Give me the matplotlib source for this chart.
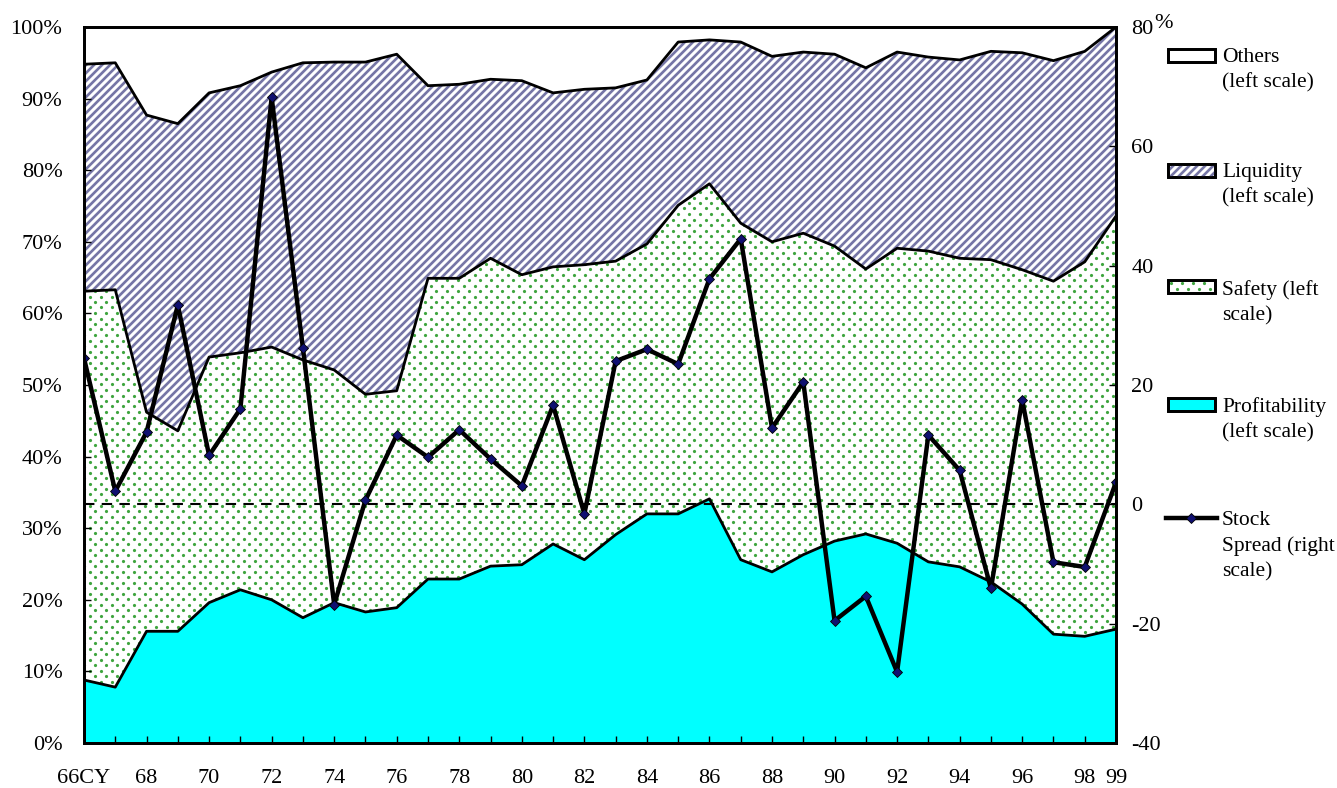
import numpy as np
import matplotlib
matplotlib.use("Agg")
import matplotlib.pyplot as plt
from matplotlib.patches import Rectangle
from matplotlib.lines import Line2D
from matplotlib.collections import LineCollection

years = list(range(66, 100))
profitability = [8.8, 7.8, 15.6, 15.6, 19.6, 21.4, 20.0, 17.5, 19.6, 18.3, 18.9, 22.9,
                 22.9, 24.7, 24.9, 27.8, 25.6, 29.1, 32.0, 32.0, 34.1, 25.6, 23.9, 26.3,
                 28.2, 29.2, 27.9, 25.3, 24.6, 22.5, 19.4, 15.2, 14.9, 15.9]
safety = [54.3, 55.5, 30.6, 28.0, 34.3, 33.1, 35.3, 36.0, 32.5, 30.4, 30.3, 42.0,
          42.0, 43.0, 40.5, 38.7, 41.2, 38.2, 37.7, 43.1, 44.0, 47.0, 46.1, 44.9,
          41.2, 37.0, 41.2, 43.4, 43.1, 45.0, 46.7, 49.3, 52.3, 57.7]
liquidity = [31.7, 31.7, 41.5, 42.9, 36.9, 37.3, 38.4, 41.5, 43.0, 46.4, 47.0, 26.9,
             27.1, 25.0, 27.1, 24.3, 24.5, 24.2, 22.9, 22.8, 20.1, 25.3, 25.9, 25.3,
             26.8, 28.1, 27.4, 27.1, 27.7, 29.1, 30.3, 30.8, 29.4, 26.4]
others = [5.2, 5.0, 12.3, 13.5, 9.2, 8.2, 6.3, 5.0, 4.9, 4.9, 3.8, 8.2,
          8.0, 7.3, 7.5, 9.2, 8.7, 8.5, 7.4, 2.1, 1.8, 2.1, 4.1, 3.5,
          3.8, 5.7, 3.5, 4.2, 4.6, 3.4, 3.6, 4.7, 3.4, 0.0]
stock_spread = [24.5, 2.2, 12.1, 33.4, 8.2, 16.0, 68.2, 26.2, -16.8, 0.7, 11.6, 7.9,
                12.5, 7.6, 3.1, 16.6, -1.6, 24.0, 26.0, 23.5, 37.8, 44.5, 12.8, 20.5,
                -19.5, -15.4, -28.1, 11.6, 5.7, -14.1, 17.5, -9.7, -10.5, 3.7]
xlabel_years = list(range(66, 99, 2)) + [99]
xlabels = ["66CY"] + [str(y) for y in range(68, 99, 2)] + ["99"]
legend_labels = ["Others\n(left scale)", "Liquidity\n(left scale)", "Safety (left\nscale)",
                 "Profitability\n(left scale)", "Stock\nSpread (right\nscale)"]

CYAN = "#00ffff"
GREEN = "#3fa53f"
SLATE = "#7676a6"

plt.rcParams["font.family"] = ["Liberation Serif", "DejaVu Serif"]
plt.rcParams["font.size"] = 16

W, H = 1337, 788
fig = plt.figure(figsize=(W / 100, H / 100), dpi=100)


def fx(x):
    return x / W


def fy(y):
    return 1 - y / H


# texture helpers, drawn in figure pixels and clipped to a shape
def stripes(target, x0, y0, x1, y1, clip, clip_tr, z):
    lines = []
    h = y1 - y0
    x = x0 - h
    while x < x1:
        lines.append([(fx(x), fy(y1)), (fx(x + h), fy(y0))])
        x += 8
    lc = LineCollection(lines, colors=SLATE, linewidths=1.9, transform=fig.transFigure,
                        zorder=z)
    target.add_artist(lc) if target is fig else target.add_collection(lc, autolim=False)
    lc.set_clip_path(clip, clip_tr) if clip_tr is not None else lc.set_clip_path(clip)


def dots(target, x0, y0, x1, y1, clip, clip_tr, z):
    xs, ys = [], []
    row = 0
    y = y0
    while y < y1:
        x = x0 + (5.5 if row % 2 else 0)
        while x < x1:
            xs.append(fx(x))
            ys.append(fy(y))
            x += 11
        y += 5.5
        row += 1
    ln = Line2D(xs, ys, ls="none", marker="o", markersize=2.3, markerfacecolor=GREEN,
                markeredgewidth=0, transform=fig.transFigure, zorder=z)
    target.add_artist(ln) if target is fig else target.add_line(ln)
    ln.set_clip_path(clip, clip_tr) if clip_tr is not None else ln.set_clip_path(clip)


ax = fig.add_axes([fx(84), fy(743), fx(1116) - fx(84), fy(27) - fy(743)])

tops = np.cumsum([profitability, safety, liquidity, others], axis=0)

ax.fill_between(years, 0, tops[0], facecolor=CYAN, edgecolor="none", lw=0)
safe_poly = ax.fill_between(years, tops[0], tops[1], facecolor="white", lw=0)
liq_poly = ax.fill_between(years, tops[1], tops[2], facecolor="white", lw=0)
dots(ax, 84, 27, 1116, 743, safe_poly.get_paths()[0], ax.transData, 1.5)
stripes(ax, 84, 27, 1116, 743, liq_poly.get_paths()[0], ax.transData, 1.5)
for t in tops[:3]:
    ax.plot(years, t, color="black", lw=2, zorder=2)

ax.set_xlim(66, 99)
ax.set_ylim(0, 100)
ax.set_yticks(range(0, 101, 10))
ax.set_yticklabels([f"{v}%" for v in range(0, 101, 10)])
ax.set_xticks(years, minor=True)
ax.set_xticks(xlabel_years)
ax.set_xticklabels(xlabels)
ax.tick_params(axis="x", which="both", direction="in", length=5, width=1, pad=19, top=False)
ax.tick_params(axis="y", direction="in", length=5, width=1, pad=15.5)
for s in ax.spines.values():
    s.set_linewidth(2)

ax2 = ax.twinx()
ax2.axhline(0, color="black", lw=1.5, ls=(0, (5, 3.5)))
ax2.plot(years, stock_spread, color="black", lw=3.2, marker="D", markersize=5,
         markerfacecolor="#101070", markeredgecolor="black", markeredgewidth=0.6)
ax2.set_ylim(-40, 80)
ax2.set_yticks(range(-40, 81, 20))
ax2.set_yticklabels([str(v) for v in range(-40, 81, 20)])
ax2.tick_params(axis="y", direction="in", length=5, width=1, pad=11)
for s in ax2.spines.values():
    s.set_linewidth(2)
fig.text(fx(1154), fy(24), "%", fontsize=16, ha="left", va="center")

# legend, drawn by hand to match the spread-out layout
def box(y, face, kind=None):
    r = Rectangle((fx(1168), fy(y + 6.5)), fx(47), fy(0) - fy(13),
                  transform=fig.transFigure, facecolor=face, edgecolor="black", lw=2,
                  zorder=3)
    fig.add_artist(r)
    if kind == "stripes":
        stripes(fig, 1168, y - 7, 1215, y + 7, r, None, 3.1)
    elif kind == "dots":
        dots(fig, 1171, y - 4, 1215, y + 7, r, None, 3.1)
    edge = Rectangle((fx(1168), fy(y + 6.5)), fx(47), fy(0) - fy(13),
                     transform=fig.transFigure, facecolor="none", edgecolor="black",
                     lw=2, zorder=3.2)
    fig.add_artist(edge)


box(55, "white")
box(170, "white", "stripes")
box(287, "white", "dots")
box(404, CYAN)
fig.add_artist(Line2D([fx(1166), fx(1217)], [fy(518), fy(518)], transform=fig.transFigure,
                      color="black", lw=3.2))
fig.add_artist(Line2D([fx(1191)], [fy(518)], transform=fig.transFigure, marker="D",
                      markersize=5, color="#101070", markeredgecolor="black",
                      markeredgewidth=0.6, lw=0))

for lab, y in zip(legend_labels, [55, 170, 287, 404, 518]):
    fig.text(fx(1222), fy(y - 7), lab, ha="left", va="top", fontsize=15.5, linespacing=1.42)

fig.savefig("out.png", dpi=100)
